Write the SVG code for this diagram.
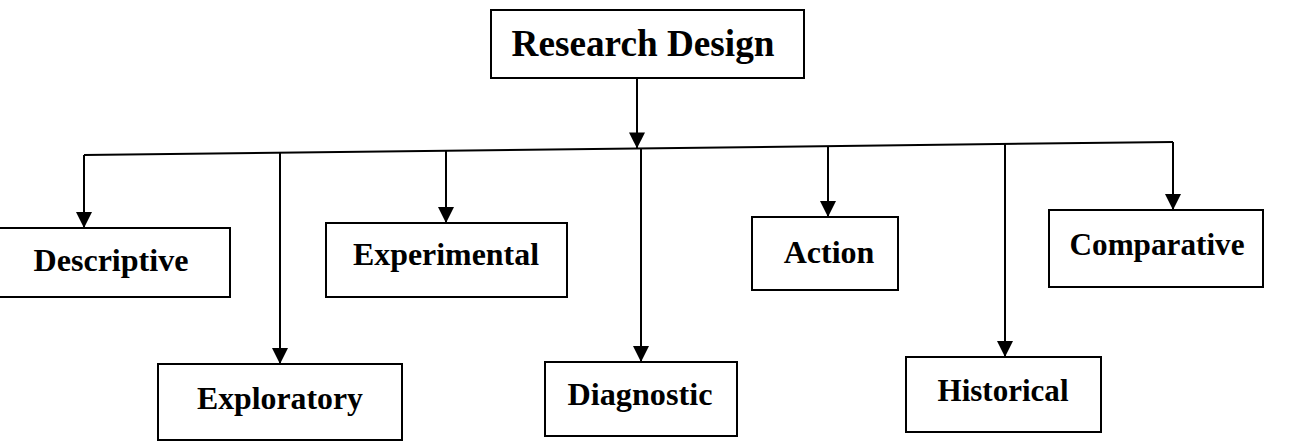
<svg xmlns="http://www.w3.org/2000/svg" width="1296" height="441" viewBox="0 0 1296 441">
<style>
.box{fill:#fff;stroke:#000;stroke-width:2}
.lbl{font-family:"Liberation Serif","Times New Roman",serif;font-weight:bold;font-size:32px;fill:#000;text-anchor:middle}
.big{font-size:37px}
.con{stroke:#000;stroke-width:2;fill:none}
</style>
<defs>
<marker id="arr" markerUnits="userSpaceOnUse" markerWidth="16" markerHeight="16" viewBox="0 0 16 16" refX="16" refY="8" orient="auto">
<path d="M0,0 L16,8 L0,16 z" fill="#000"/>
</marker>
</defs>
<g id="connectors">
<line class="con" x1="637" y1="78" x2="637" y2="148.4" marker-end="url(#arr)"/>
<line class="con" x1="84" y1="155" x2="1173" y2="142"/>
<line class="con" x1="84" y1="155" x2="84" y2="228" marker-end="url(#arr)"/>
<line class="con" x1="280" y1="152.7" x2="280" y2="364" marker-end="url(#arr)"/>
<line class="con" x1="446" y1="150.7" x2="446" y2="223" marker-end="url(#arr)"/>
<line class="con" x1="641" y1="148.3" x2="641" y2="362" marker-end="url(#arr)"/>
<line class="con" x1="828" y1="146.1" x2="828" y2="217" marker-end="url(#arr)"/>
<line class="con" x1="1005" y1="144" x2="1005" y2="357" marker-end="url(#arr)"/>
<line class="con" x1="1173" y1="142" x2="1173" y2="210" marker-end="url(#arr)"/>
</g>
<g id="research-design">
<rect class="box" x="491" y="10" width="313" height="68"/>
<text class="lbl big" x="643" y="56" textLength="263" lengthAdjust="spacingAndGlyphs">Research Design</text>
</g>
<g id="descriptive">
<rect class="box" x="-2" y="228" width="232" height="69"/>
<text class="lbl" x="111" y="271" textLength="155" lengthAdjust="spacingAndGlyphs">Descriptive</text>
</g>
<g id="experimental">
<rect class="box" x="326" y="223" width="241" height="74"/>
<text class="lbl" x="446" y="265" textLength="186" lengthAdjust="spacingAndGlyphs">Experimental</text>
</g>
<g id="action">
<rect class="box" x="752" y="217" width="146" height="73"/>
<text class="lbl" x="829" y="263">Action</text>
</g>
<g id="comparative">
<rect class="box" x="1049" y="210" width="214" height="77"/>
<text class="lbl" x="1157" y="255" textLength="175" lengthAdjust="spacingAndGlyphs">Comparative</text>
</g>
<g id="exploratory">
<rect class="box" x="158" y="364" width="244" height="76"/>
<text class="lbl" x="280" y="409" textLength="166" lengthAdjust="spacingAndGlyphs">Exploratory</text>
</g>
<g id="diagnostic">
<rect class="box" x="545" y="362" width="192" height="74"/>
<text class="lbl" x="640" y="405" textLength="145" lengthAdjust="spacingAndGlyphs">Diagnostic</text>
</g>
<g id="historical">
<rect class="box" x="906" y="357" width="195" height="75"/>
<text class="lbl" x="1003" y="401" textLength="131" lengthAdjust="spacingAndGlyphs">Historical</text>
</g>
</svg>
